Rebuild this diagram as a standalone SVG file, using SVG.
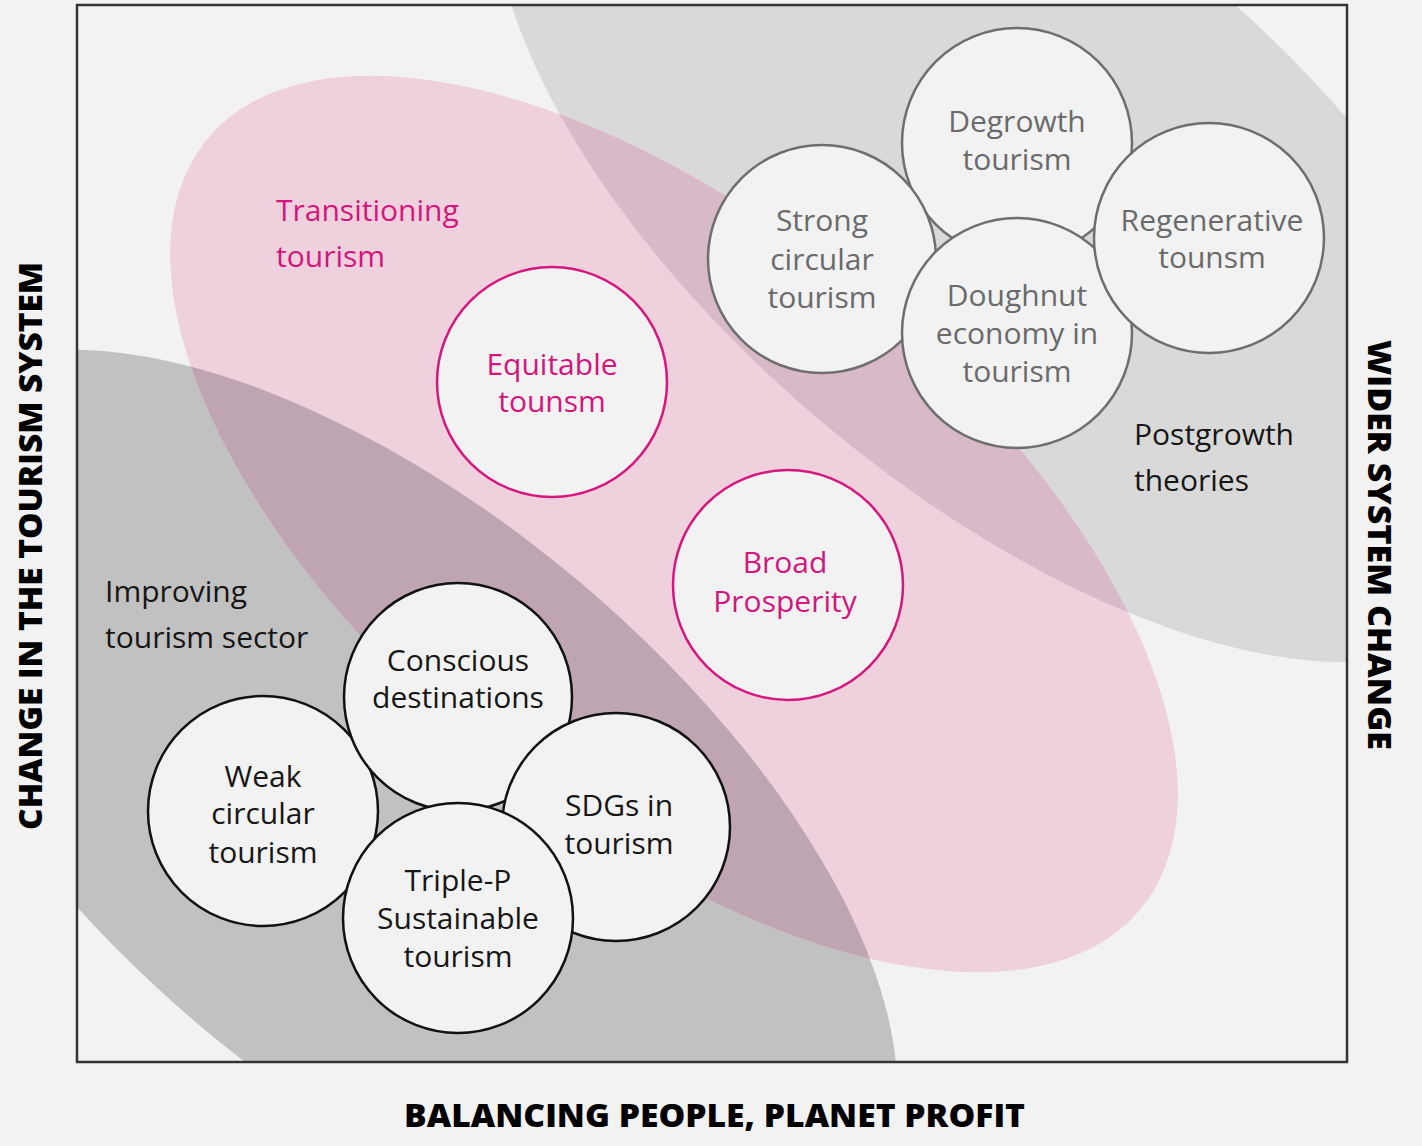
<svg xmlns="http://www.w3.org/2000/svg" width="1422" height="1146" viewBox="0 0 1422 1146">
<style>
.cg{fill:#f2f2f2;stroke:#6e6e6e;stroke-width:2.5}
.cb{fill:#f2f2f2;stroke:#111;stroke-width:2.5}
.cp{fill:#f2f2f2;stroke:#d4187f;stroke-width:2.5}
.t{font-family:"Open Sans","Noto Sans","Liberation Sans",sans-serif;font-size:30px;text-anchor:middle}
.l{font-family:"Open Sans","Noto Sans","Liberation Sans",sans-serif;font-size:30px;text-anchor:start}
.tg{fill:#6a6a6a}
.tb{fill:#161616}
.tp{fill:#d3157e}
.ax{font-family:"Open Sans","Liberation Sans",sans-serif;font-weight:800;font-size:31px;fill:#000;text-anchor:middle}
</style>
<defs>
<clipPath id="frameClip"><rect x="77" y="5" width="1270" height="1057"/></clipPath>
<clipPath id="trClip"><ellipse cx="1012" cy="199" rx="630" ry="293" transform="rotate(40 1012 199)"/></clipPath>
<clipPath id="blClip"><ellipse cx="390" cy="804" rx="615" ry="292" transform="rotate(40 390 804)"/></clipPath>
<ellipse id="pinkShape" cx="674" cy="524" rx="605" ry="298" transform="rotate(39.5 674 524)"/>
</defs>
<rect x="0" y="0" width="1422" height="1146" fill="#f2f2f2"/>
<g id="regions" clip-path="url(#frameClip)">
<ellipse id="region-postgrowth" cx="1012" cy="199" rx="630" ry="293" transform="rotate(40 1012 199)" fill="#d9d9d9"/>
<ellipse id="region-improving" cx="390" cy="804" rx="615" ry="292" transform="rotate(40 390 804)" fill="#c1c1c1"/>
<use id="region-transitioning" href="#pinkShape" fill="#efd0dd"/>
<g clip-path="url(#trClip)"><use href="#pinkShape" fill="#d8b9c7"/></g>
<g clip-path="url(#blClip)"><use href="#pinkShape" fill="#bfa4b1"/></g>
</g>
<rect x="77" y="5" width="1270" height="1057" fill="none" stroke="#333" stroke-width="2.5"/>
<g id="connectors"/>
<g id="label-transitioning"><text class="l tp" x="276" y="221">Transitioning</text><text class="l tp" x="276" y="267">tourism</text></g>
<g id="label-improving"><text class="l tb" x="105" y="602">Improving</text><text class="l tb" x="105" y="648">tourism sector</text></g>
<g id="label-postgrowth"><text class="l tb" x="1134" y="445">Postgrowth</text><text class="l tb" x="1134" y="491">theories</text></g>
<g id="node-degrowth"><circle class="cg" cx="1017" cy="143" r="115"/><text class="t tg" x="1017" y="132">Degrowth</text><text class="t tg" x="1017" y="170">tourism</text></g>
<g id="node-strong-circular"><circle class="cg" cx="822" cy="259" r="114"/><text class="t tg" x="822" y="231">Strong</text><text class="t tg" x="822" y="270">circular</text><text class="t tg" x="822" y="308">tourism</text></g>
<g id="node-doughnut"><circle class="cg" cx="1017" cy="333" r="115"/><text class="t tg" x="1017" y="306">Doughnut</text><text class="t tg" x="1017" y="344">economy in</text><text class="t tg" x="1017" y="382">tourism</text></g>
<g id="node-regenerative"><circle class="cg" cx="1209" cy="238" r="115"/><text class="t tg" x="1212" y="231">Regenerative</text><text class="t tg" x="1212" y="268">tounsm</text></g>
<g id="node-equitable"><circle class="cp" cx="552" cy="382" r="115"/><text class="t tp" x="552" y="375">Equitable</text><text class="t tp" x="552" y="412">tounsm</text></g>
<g id="node-broad-prosperity"><circle class="cp" cx="788" cy="585" r="115"/><text class="t tp" x="785" y="573">Broad</text><text class="t tp" x="785" y="612">Prosperity</text></g>
<g id="node-weak-circular"><circle class="cb" cx="263" cy="811" r="115"/><text class="t tb" x="263" y="787">Weak</text><text class="t tb" x="263" y="824">circular</text><text class="t tb" x="263" y="863">tourism</text></g>
<g id="node-conscious"><circle class="cb" cx="458" cy="697" r="114"/><text class="t tb" x="458" y="671">Conscious</text><text class="t tb" x="458" y="708">destinations</text></g>
<g id="node-sdgs"><circle class="cb" cx="616" cy="827" r="114"/><text class="t tb" x="619" y="816">SDGs in</text><text class="t tb" x="619" y="854">tourism</text></g>
<g id="node-triple-p"><circle class="cb" cx="458" cy="918" r="115"/><text class="t tb" x="458" y="891">Triple-P</text><text class="t tb" x="458" y="929">Sustainable</text><text class="t tb" x="458" y="967">tourism</text></g>
<g id="axes">
<text class="ax" x="714.5" y="1127" textLength="621" lengthAdjust="spacingAndGlyphs">BALANCING PEOPLE, PLANET PROFIT</text>
<text class="ax" transform="translate(42 546) rotate(-90)" x="0" y="0" textLength="568" lengthAdjust="spacingAndGlyphs">CHANGE IN THE TOURISM SYSTEM</text>
<text class="ax" transform="translate(1368 545) rotate(90)" x="0" y="0" textLength="410" lengthAdjust="spacingAndGlyphs">WIDER SYSTEM CHANGE</text>
</g>
</svg>
